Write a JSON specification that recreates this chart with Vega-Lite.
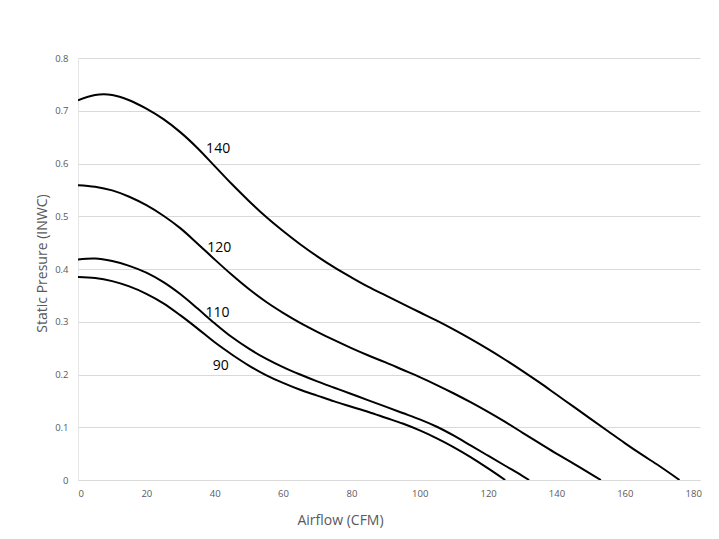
{
  "$schema": "https://vega.github.io/schema/vega-lite/v6.json",
  "autosize": {"type": "none"},
  "padding": {"left": 78, "top": 58, "right": 19, "bottom": 59},
  "width": 622,
  "height": 422,
  "background": "white",
  "config": {
    "view": {"stroke": null},
    "font": "Open Sans"
  },
  "datasets": {
    "curves": [
      {"cfm": 0, "sp": 0.720, "rpm": "140"},
      {"cfm": 5, "sp": 0.730, "rpm": "140"},
      {"cfm": 10, "sp": 0.730, "rpm": "140"},
      {"cfm": 15, "sp": 0.720, "rpm": "140"},
      {"cfm": 20, "sp": 0.704, "rpm": "140"},
      {"cfm": 25, "sp": 0.684, "rpm": "140"},
      {"cfm": 30, "sp": 0.659, "rpm": "140"},
      {"cfm": 35, "sp": 0.629, "rpm": "140"},
      {"cfm": 40, "sp": 0.595, "rpm": "140"},
      {"cfm": 45, "sp": 0.561, "rpm": "140"},
      {"cfm": 50, "sp": 0.529, "rpm": "140"},
      {"cfm": 55, "sp": 0.499, "rpm": "140"},
      {"cfm": 60, "sp": 0.472, "rpm": "140"},
      {"cfm": 65, "sp": 0.447, "rpm": "140"},
      {"cfm": 70, "sp": 0.424, "rpm": "140"},
      {"cfm": 75, "sp": 0.403, "rpm": "140"},
      {"cfm": 80, "sp": 0.384, "rpm": "140"},
      {"cfm": 85, "sp": 0.366, "rpm": "140"},
      {"cfm": 90, "sp": 0.350, "rpm": "140"},
      {"cfm": 95, "sp": 0.334, "rpm": "140"},
      {"cfm": 100, "sp": 0.318, "rpm": "140"},
      {"cfm": 105, "sp": 0.302, "rpm": "140"},
      {"cfm": 110, "sp": 0.285, "rpm": "140"},
      {"cfm": 115, "sp": 0.267, "rpm": "140"},
      {"cfm": 120, "sp": 0.248, "rpm": "140"},
      {"cfm": 125, "sp": 0.228, "rpm": "140"},
      {"cfm": 130, "sp": 0.207, "rpm": "140"},
      {"cfm": 135, "sp": 0.185, "rpm": "140"},
      {"cfm": 140, "sp": 0.162, "rpm": "140"},
      {"cfm": 145, "sp": 0.139, "rpm": "140"},
      {"cfm": 150, "sp": 0.116, "rpm": "140"},
      {"cfm": 155, "sp": 0.093, "rpm": "140"},
      {"cfm": 160, "sp": 0.070, "rpm": "140"},
      {"cfm": 165, "sp": 0.048, "rpm": "140"},
      {"cfm": 170, "sp": 0.027, "rpm": "140"},
      {"cfm": 176, "sp": 0.000, "rpm": "140"},

      {"cfm": 0, "sp": 0.559, "rpm": "120"},
      {"cfm": 5, "sp": 0.556, "rpm": "120"},
      {"cfm": 10, "sp": 0.549, "rpm": "120"},
      {"cfm": 15, "sp": 0.537, "rpm": "120"},
      {"cfm": 20, "sp": 0.521, "rpm": "120"},
      {"cfm": 25, "sp": 0.501, "rpm": "120"},
      {"cfm": 30, "sp": 0.477, "rpm": "120"},
      {"cfm": 35, "sp": 0.448, "rpm": "120"},
      {"cfm": 40, "sp": 0.418, "rpm": "120"},
      {"cfm": 45, "sp": 0.389, "rpm": "120"},
      {"cfm": 50, "sp": 0.362, "rpm": "120"},
      {"cfm": 55, "sp": 0.338, "rpm": "120"},
      {"cfm": 60, "sp": 0.317, "rpm": "120"},
      {"cfm": 65, "sp": 0.298, "rpm": "120"},
      {"cfm": 70, "sp": 0.281, "rpm": "120"},
      {"cfm": 75, "sp": 0.265, "rpm": "120"},
      {"cfm": 80, "sp": 0.250, "rpm": "120"},
      {"cfm": 85, "sp": 0.236, "rpm": "120"},
      {"cfm": 90, "sp": 0.223, "rpm": "120"},
      {"cfm": 95, "sp": 0.209, "rpm": "120"},
      {"cfm": 100, "sp": 0.195, "rpm": "120"},
      {"cfm": 105, "sp": 0.180, "rpm": "120"},
      {"cfm": 110, "sp": 0.164, "rpm": "120"},
      {"cfm": 115, "sp": 0.147, "rpm": "120"},
      {"cfm": 120, "sp": 0.129, "rpm": "120"},
      {"cfm": 125, "sp": 0.110, "rpm": "120"},
      {"cfm": 130, "sp": 0.090, "rpm": "120"},
      {"cfm": 135, "sp": 0.070, "rpm": "120"},
      {"cfm": 140, "sp": 0.050, "rpm": "120"},
      {"cfm": 145, "sp": 0.031, "rpm": "120"},
      {"cfm": 150, "sp": 0.0115, "rpm": "120"},
      {"cfm": 153, "sp": 0.000, "rpm": "120"},

      {"cfm": 0, "sp": 0.418, "rpm": "110"},
      {"cfm": 5, "sp": 0.420, "rpm": "110"},
      {"cfm": 10, "sp": 0.415, "rpm": "110"},
      {"cfm": 15, "sp": 0.406, "rpm": "110"},
      {"cfm": 20, "sp": 0.393, "rpm": "110"},
      {"cfm": 25, "sp": 0.375, "rpm": "110"},
      {"cfm": 30, "sp": 0.352, "rpm": "110"},
      {"cfm": 35, "sp": 0.325, "rpm": "110"},
      {"cfm": 40, "sp": 0.297, "rpm": "110"},
      {"cfm": 45, "sp": 0.271, "rpm": "110"},
      {"cfm": 50, "sp": 0.249, "rpm": "110"},
      {"cfm": 55, "sp": 0.230, "rpm": "110"},
      {"cfm": 60, "sp": 0.214, "rpm": "110"},
      {"cfm": 65, "sp": 0.200, "rpm": "110"},
      {"cfm": 70, "sp": 0.187, "rpm": "110"},
      {"cfm": 75, "sp": 0.175, "rpm": "110"},
      {"cfm": 80, "sp": 0.163, "rpm": "110"},
      {"cfm": 85, "sp": 0.151, "rpm": "110"},
      {"cfm": 90, "sp": 0.139, "rpm": "110"},
      {"cfm": 95, "sp": 0.127, "rpm": "110"},
      {"cfm": 100, "sp": 0.115, "rpm": "110"},
      {"cfm": 105, "sp": 0.101, "rpm": "110"},
      {"cfm": 110, "sp": 0.084, "rpm": "110"},
      {"cfm": 115, "sp": 0.065, "rpm": "110"},
      {"cfm": 120, "sp": 0.046, "rpm": "110"},
      {"cfm": 125, "sp": 0.027, "rpm": "110"},
      {"cfm": 130, "sp": 0.008, "rpm": "110"},
      {"cfm": 132, "sp": 0.000, "rpm": "110"},

      {"cfm": 0, "sp": 0.385, "rpm": "90"},
      {"cfm": 5, "sp": 0.383, "rpm": "90"},
      {"cfm": 10, "sp": 0.377, "rpm": "90"},
      {"cfm": 15, "sp": 0.367, "rpm": "90"},
      {"cfm": 20, "sp": 0.353, "rpm": "90"},
      {"cfm": 25, "sp": 0.335, "rpm": "90"},
      {"cfm": 30, "sp": 0.312, "rpm": "90"},
      {"cfm": 35, "sp": 0.287, "rpm": "90"},
      {"cfm": 40, "sp": 0.261, "rpm": "90"},
      {"cfm": 45, "sp": 0.238, "rpm": "90"},
      {"cfm": 50, "sp": 0.217, "rpm": "90"},
      {"cfm": 55, "sp": 0.199, "rpm": "90"},
      {"cfm": 60, "sp": 0.184, "rpm": "90"},
      {"cfm": 65, "sp": 0.171, "rpm": "90"},
      {"cfm": 70, "sp": 0.160, "rpm": "90"},
      {"cfm": 75, "sp": 0.149, "rpm": "90"},
      {"cfm": 80, "sp": 0.139, "rpm": "90"},
      {"cfm": 85, "sp": 0.129, "rpm": "90"},
      {"cfm": 90, "sp": 0.118, "rpm": "90"},
      {"cfm": 95, "sp": 0.107, "rpm": "90"},
      {"cfm": 100, "sp": 0.094, "rpm": "90"},
      {"cfm": 105, "sp": 0.079, "rpm": "90"},
      {"cfm": 110, "sp": 0.062, "rpm": "90"},
      {"cfm": 115, "sp": 0.043, "rpm": "90"},
      {"cfm": 120, "sp": 0.022, "rpm": "90"},
      {"cfm": 125, "sp": 0.000, "rpm": "90"}
    ],
    "labels": [
      {"cfm": 41.0, "sp": 0.627, "text": "140"},
      {"cfm": 41.3, "sp": 0.440, "text": "120"},
      {"cfm": 40.8, "sp": 0.317, "text": "110"},
      {"cfm": 41.8, "sp": 0.216, "text": "90"}
    ]
  },
  "layer": [
    {
      "data": {"name": "curves"},
      "mark": {"type": "line", "color": "black", "strokeWidth": 2, "interpolate": "catmull-rom", "clip": true},
      "encoding": {
        "x": {
          "field": "cfm", "type": "quantitative",
          "scale": {"domain": [0, 182], "nice": false, "zero": true},
          "axis": {
            "title": "Airflow (CFM)",
            "values": [0, 20, 40, 60, 80, 100, 120, 140, 160, 180],
            "grid": false,
            "ticks": false,
            "domainColor": "#d9d9d9",
            "domainWidth": 1,
            "labelColor": "#595959",
            "labelFontSize": 9.5,
            "labelPadding": 8,
            "labelFont": "Open Sans",
            "titleColor": "#595959",
            "titleFontSize": 14,
            "titleFontWeight": "normal",
            "titleFont": "Open Sans",
            "titleX": 262,
            "titleY": 40,
            "titleAlign": "center",
            "titleBaseline": "middle"
          }
        },
        "y": {
          "field": "sp", "type": "quantitative",
          "scale": {"domain": [0, 0.8], "nice": false},
          "axis": {
            "title": "Static Presure (INWC)",
            "values": [0, 0.1, 0.2, 0.3, 0.4, 0.5, 0.6, 0.7, 0.8],
            "format": "~g",
            "grid": true,
            "gridColor": "#d9d9d9",
            "gridWidth": 1,
            "ticks": false,
            "domainColor": "#e6e6e6",
            "domainWidth": 1,
            "labelColor": "#595959",
            "labelFontSize": 9.5,
            "labelPadding": 10,
            "labelFont": "Open Sans",
            "titleColor": "#595959",
            "titleFontSize": 14,
            "titleFontWeight": "normal",
            "titleFont": "Open Sans",
            "titleAngle": -90,
            "titleX": -36,
            "titleY": 205,
            "titleAlign": "center",
            "titleBaseline": "middle"
          }
        },
        "detail": {"field": "rpm", "type": "nominal"}
      }
    },
    {
      "data": {"name": "labels"},
      "mark": {"type": "text", "color": "black", "fontSize": 14, "font": "Open Sans", "align": "center", "baseline": "middle"},
      "encoding": {
        "x": {"field": "cfm", "type": "quantitative"},
        "y": {"field": "sp", "type": "quantitative"},
        "text": {"field": "text"}
      }
    }
  ]
}
